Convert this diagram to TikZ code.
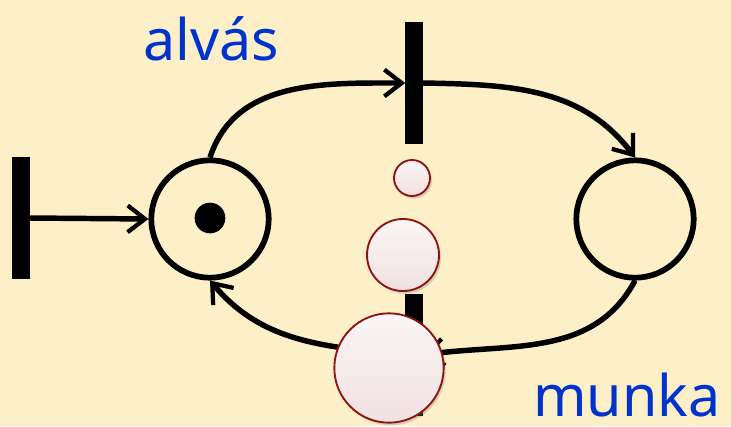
\documentclass[tikz,border=0pt]{standalone}
\usepackage{fontspec}
\newfontfamily\labelfont{Noto Sans}
\usetikzlibrary{arrows.meta,shadows}
\definecolor{BG}{HTML}{FDEFC8}
\definecolor{LB}{HTML}{0033CC}
\definecolor{BR}{HTML}{8E1414}
\begin{document}
\begin{tikzpicture}[x=0.75pt,y=-0.75pt,
    place/.style={circle, draw=black, line width=4.3pt, minimum size=88pt, inner sep=0pt},
    token/.style={circle, fill=black, minimum size=23pt, inner sep=0pt},
    trans/.style={rectangle, fill=black, minimum width=12.8pt, minimum height=91.5pt, inner sep=0pt},
    arc/.style={line width=4.1pt, -{Straight Barb[length=13pt,width=20pt,line width=3.2pt]}},
    bubble/.style={circle, draw=BR, line width=1.4pt, top color=BR!4!white, bottom color=BR!13!white,
      inner sep=0pt, drop shadow={opacity=0.3, shadow xshift=1.5pt, shadow yshift=-2pt}},
    lbl/.style={text=LB, font=\labelfont\fontsize{43}{50}\selectfont, inner sep=0pt, anchor=base}]
  \fill[BG] (0,0) rectangle (731,426);
  \useasboundingbox (0,0) rectangle (731,426);
  % places and transitions
  \node[place] (sleep) at (210,219) {};
  \node[token] (tok) at (210,218) {};
  \node[place] (work) at (635,219) {};
  \node[trans] (tin) at (21,218) {};
  \node[trans] (ttop) at (414,83) {};
  \node[trans] (tbot) at (414,355) {};
  % arcs
  \draw[arc] (tin.east) -- (sleep.west);
  \draw[arc] (sleep.north) to[out=72,in=180] (ttop.west);
  \draw[arc] (ttop.east) to[out=-1,in=127] (work.north);
  \draw[arc] (work.south) to[out=-118,in=8] (tbot.east);
  \draw[arc] (tbot.west) to[out=174,in=-50] (sleep.south);
  % thought bubbles
  \node[bubble, minimum size=27pt] (bub1) at (412,178) {};
  \node[bubble, minimum size=54pt] (bub2) at (403,255) {};
  \node[bubble, minimum size=82pt] (bub3) at (389,368) {};
  % labels
  \node[lbl] (lsleep) at (211,60) {alvás};
  \node[lbl] (lwork) at (627,416) {munka};
\end{tikzpicture}
\end{document}
